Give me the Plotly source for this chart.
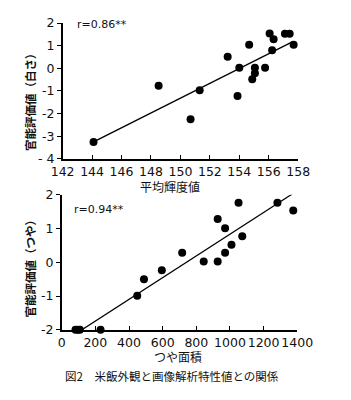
import plotly.graph_objects as go

# ---- data: top panel (whiteness) ----
bright_x = [144.10, 148.52, 150.69, 151.31, 153.21, 153.88, 154.0, 154.67, 154.88,
            155.06, 155.06, 155.75, 156.06, 156.23, 156.33, 157.10, 157.42, 157.69]
white_y = [-3.26, -0.77, -2.25, -0.97, 0.51, -1.22, 0.03, 1.04, -0.48,
           0.03, -0.22, 0.03, 1.54, 0.80, 1.29, 1.53, 1.53, 1.04]
fit1_x = [144.1, 157.6]
fit1_y = [-3.25, 1.17]

# ---- data: bottom panel (gloss) ----
gloss_x = [82, 96, 108, 231, 449, 489, 595, 716, 844, 927, 927, 971, 971,
           1009, 1051, 1073, 1167, 1282, 1376]
gloss_y = [-2.0, -2.0, -2.0, -2.0, -0.99, -0.50, -0.24, 0.28, 0.02, 0.02, 1.28,
           0.28, 1.01, 0.52, 1.76, 0.77, 2.02, 1.76, 1.53]
fit2_x = [120, 1370]
fit2_y = [-2.0, 2.02]

x1_ticks = [142, 144, 146, 148, 150, 152, 154, 156, 158]
y1_ticks = [2, 1, 0, -1, -2, -3, -4]
y1_text = ["2", "1", "0", "-1", "-2", "-3", "- 4"]
x2_ticks = [0, 200, 400, 600, 800, 1000, 1200, 1400]
y2_ticks = [2, 1, 0, -1, -2]
y2_text = ["2", "1", "0", "-1", "-2"]

W, H = 351, 400
TICKFONT = dict(family="DejaVu Sans", size=12.5, color="#111")
JP = "Noto Sans CJK JP"

fig = go.Figure()
fig.add_trace(go.Scatter(x=bright_x, y=white_y, mode="markers",
                         marker=dict(size=8, color="black"), cliponaxis=False,
                         xaxis="x", yaxis="y", showlegend=False))
fig.add_trace(go.Scatter(x=fit1_x, y=fit1_y, mode="lines",
                         line=dict(color="black", width=1.3), cliponaxis=False,
                         xaxis="x", yaxis="y", showlegend=False))
fig.add_trace(go.Scatter(x=gloss_x, y=gloss_y, mode="markers",
                         marker=dict(size=8, color="black"), cliponaxis=False,
                         xaxis="x2", yaxis="y2", showlegend=False))
fig.add_trace(go.Scatter(x=fit2_x, y=fit2_y, mode="lines",
                         line=dict(color="black", width=1.3), cliponaxis=False,
                         xaxis="x2", yaxis="y2", showlegend=False))

def xax(domain, rng, ticks, anchor):
    return dict(domain=domain, range=rng, tickvals=ticks, ticks="inside", ticklen=4,
                tickcolor="black", tickwidth=1.2, showline=True, linecolor="black",
                linewidth=1.5, showgrid=False, zeroline=False, anchor=anchor,
                tickangle=0, tickfont=TICKFONT, fixedrange=True)

def yax(domain, rng, ticks, text, anchor):
    return dict(domain=domain, range=rng, tickvals=ticks, ticktext=text, ticks="outside",
                ticklen=4, tickcolor="black", tickwidth=1.2, showline=True,
                linecolor="black", linewidth=1.5, showgrid=False, zeroline=False,
                anchor=anchor, tickfont=TICKFONT, fixedrange=True)

fig.update_layout(
    width=W, height=H, margin=dict(l=0, r=0, t=0, b=0),
    paper_bgcolor="white", plot_bgcolor="white",
    xaxis=xax([55 / W, 311 / W], [142, 158], x1_ticks, "y"),
    yaxis=yax([1 - 156.7 / H, 1 - 15.7 / H], [-4, 2], y1_ticks, y1_text, "x"),
    xaxis2=xax([54 / W, 310 / W], [0, 1400], x2_ticks, "y2"),
    yaxis2=yax([1 - 334.3 / H, 1 - 194 / H], [-2, 2], y2_ticks, y2_text, "x2"),
)

def ann(text, x, y, size, family, xanchor="center", angle=0, bold=False):
    t = f"<b>{text}</b>" if bold else text
    fig.add_annotation(text=t, x=x / W, y=1 - y / H, xref="paper", yref="paper",
                       xanchor=xanchor, yanchor="middle", showarrow=False,
                       textangle=angle, font=dict(family=family, size=size, color="#111"))

ann("r=0.86**", 69, 17, 11, "DejaVu Sans", xanchor="left")
ann("r=0.94**", 65, 209, 11, "DejaVu Sans", xanchor="left")
ann("官能評価値（白さ）", 20, 94, 11.5, JP, angle=-90, bold=True)
ann("官能評価値（つや）", 20, 267, 11.5, JP, angle=-90, bold=True)
ann("平均輝度値", 172, 185, 12, JP)
ann("つや面積", 180, 362, 12, JP)
ann("図2　米飯外観と画像解析特性値との関係", 174, 382, 11.5, JP)

fig.write_html("out.html")
